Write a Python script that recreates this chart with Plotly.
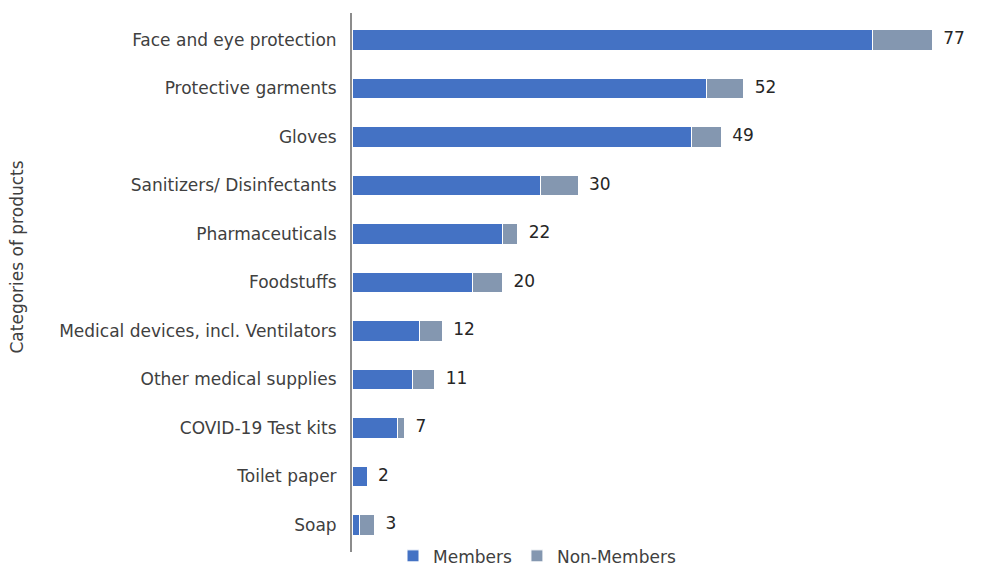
import plotly.graph_objects as go

categories = ["Face and eye protection", "Protective garments", "Gloves",
              "Sanitizers/ Disinfectants", "Pharmaceuticals", "Foodstuffs",
              "Medical devices, incl. Ventilators", "Other medical supplies",
              "COVID-19 Test kits", "Toilet paper", "Soap"]
members = [69, 47, 45, 25, 20, 16, 9, 8, 6, 2, 1]
non_members = [8, 5, 4, 5, 2, 4, 3, 3, 1, 0, 2]
totals = [m + n for m, n in zip(members, non_members)]
axis_title = "Categories of products"

FONT = "DejaVu Sans"
TXT = "#404040"
FS = 17

fig = go.Figure()
fig.add_trace(go.Bar(y=categories, x=members, orientation="h", name="Members",
                     marker=dict(color="#4472C4", line=dict(color="white", width=1))))
fig.add_trace(go.Bar(y=categories, x=non_members, orientation="h", name="Non-Members",
                     marker=dict(color="#8497B0", line=dict(color="white", width=1))))
fig.add_trace(go.Scatter(y=categories, x=totals, mode="text",
                         text=["  " + str(t) for t in totals], textposition="middle right",
                         textfont=dict(family=FONT, size=FS, color="#262626"),
                         showlegend=False, hoverinfo="skip", cliponaxis=False))

fig.update_layout(
    width=984, height=568,
    barmode="stack", bargap=0.57,
    plot_bgcolor="white", paper_bgcolor="white",
    margin=dict(l=352, r=29, t=13, b=16, autoexpand=False),
    font=dict(family=FONT, size=FS, color=TXT),
    showlegend=True,
    legend=dict(orientation="h", x=0.068, xanchor="left", y=-0.008, yanchor="middle",
                font=dict(family=FONT, size=FS, color=TXT),
                itemwidth=30, traceorder="normal", bgcolor="rgba(0,0,0,0)"),
    annotations=[dict(text=axis_title, textangle=-90, xref="paper", yref="paper",
                      x=-0.555, y=0.547, xanchor="center", yanchor="middle",
                      showarrow=False, font=dict(family=FONT, size=FS, color=TXT))],
)
fig.update_xaxes(range=[0, 80], visible=False, showgrid=False, zeroline=False)
fig.update_yaxes(categoryorder="array", categoryarray=categories, autorange="reversed",
                 showline=True, linecolor="#8c8c8c", linewidth=2, showgrid=False,
                 ticks="", ticklabelstandoff=10,
                 tickfont=dict(family=FONT, size=FS, color=TXT))

fig.write_html("out.html")
